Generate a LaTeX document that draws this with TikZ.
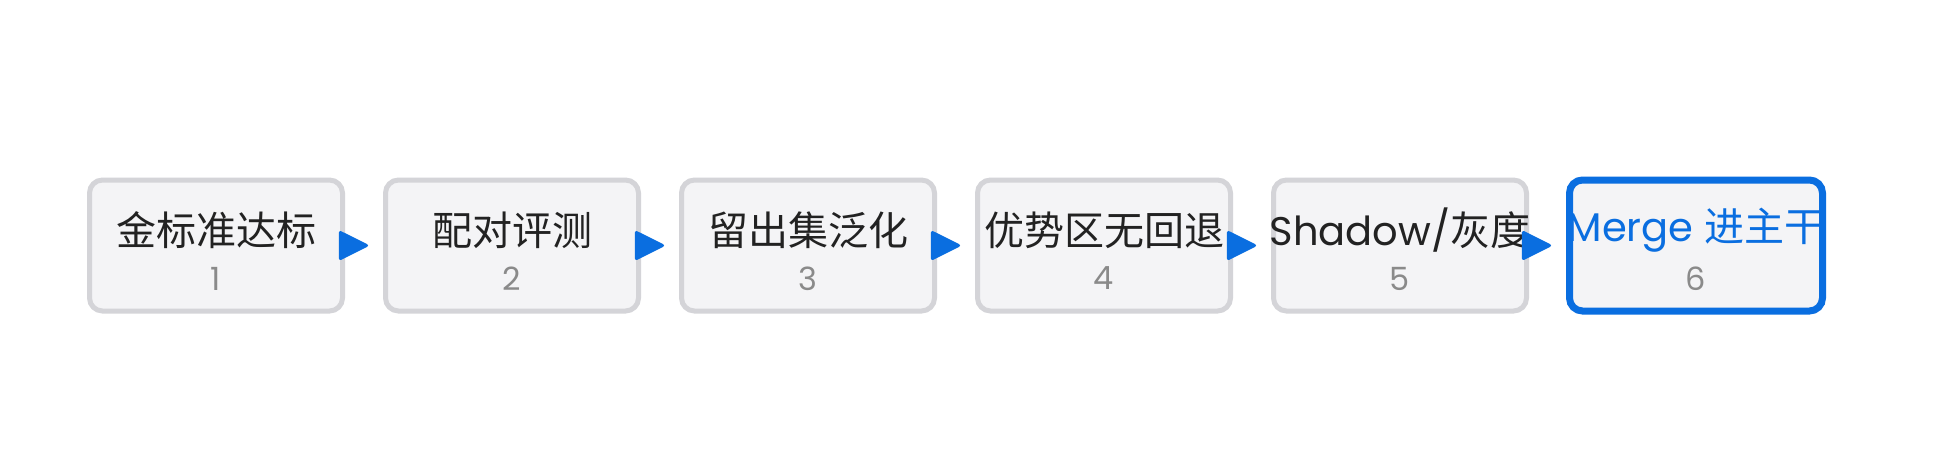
\documentclass[tikz,border=0pt]{standalone}
\usepackage{fontspec}
\setmainfont{Poppins}
\newfontfamily\cjk{Noto Sans CJK SC}
\usetikzlibrary{arrows.meta}
\definecolor{boxfill}{HTML}{F4F4F6}
\definecolor{boxline}{HTML}{D4D4D8}
\definecolor{accent}{HTML}{0A6EE0}
\definecolor{txt}{HTML}{222222}
\definecolor{numgray}{HTML}{8A8A8A}
\begin{document}
\begin{tikzpicture}[x=1pt,y=-1pt,
  stepbox/.style={draw=boxline, fill=boxfill, line width=5pt, rounded corners=13pt,
    minimum width=253pt, minimum height=131pt, inner sep=0pt},
  activebox/.style={stepbox, draw=accent, line width=7pt},
  title/.style={text=txt, font=\fontsize{40}{48}\selectfont, inner sep=0pt},
  activetitle/.style={title, text=accent},
  num/.style={text=numgray, font=\fontsize{32}{36}\selectfont, inner sep=0pt},
  conn/.style={draw=accent, line width=3pt, -{Triangle[length=31pt, width=30pt, round]}, shorten >=15pt}]
\useasboundingbox (0,0) rectangle (1955,464);
\fill[white] (0,0) rectangle (1955,464);
\foreach \i in {1,...,5}{
  \node[stepbox] (b\i) at ({216+296*(\i-1)},245.5) {};
}
\node[activebox] (b6) at (1696,245.5) {};
\node[title] (t1) at ([yshift=15.5pt]b1.center) {\cjk 金标准达标};
\node[title] (t2) at ([yshift=15.5pt]b2.center) {\cjk 配对评测};
\node[title] (t3) at ([yshift=15.5pt]b3.center) {\cjk 留出集泛化};
\node[title] (t4) at ([yshift=15.5pt]b4.center) {\cjk 优势区无回退};
\node[title] (t5) at ([yshift=15.5pt]b5.center) {Shadow/{\cjk 灰度}};
\node[activetitle] (t6) at ([yshift=15.5pt]b6.center) {Merge {\cjk 进主干}};
\foreach \i in {1,...,6}{
  \node[num] (n\i) at ([yshift=-33pt]b\i.center) {\i};
}
\foreach \i/\j in {1/2,2/3,3/4,4/5,5/6}{
  \draw[conn] (b\i.east) -- (b\j.west);
}
\end{tikzpicture}
\end{document}
